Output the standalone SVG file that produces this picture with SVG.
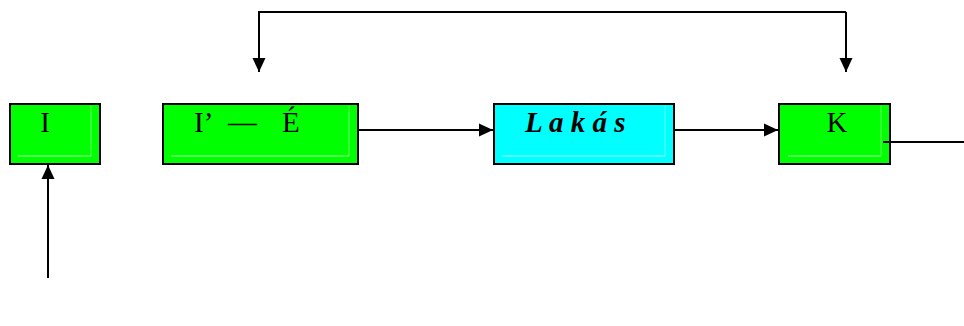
<svg xmlns="http://www.w3.org/2000/svg" width="964" height="326" viewBox="0 0 964 326">
<style>
.box{stroke:#000;stroke-width:2}
.g{fill:#00ff00}
.c{fill:#00ffff}
.hl{stroke:#a8ffa8;stroke-width:1;fill:none}
.vl{stroke:#66ff66;stroke-width:1;fill:none}
.hlc{stroke:#a8ffff;stroke-width:1;fill:none}
.vlc{stroke:#66ffff;stroke-width:1;fill:none}
.t{font-family:"Liberation Serif","Times New Roman",serif;font-size:29px;fill:#000}
.conn{stroke:#000;stroke-width:2;fill:none}
</style>
<defs>
<marker id="ah" markerWidth="14" markerHeight="14" viewBox="0 0 14 14" refX="14" refY="7" orient="auto" markerUnits="userSpaceOnUse">
<path d="M0,0.5 L14,7 L0,13.5 z" fill="#000"/>
</marker>
</defs>
<g id="node-I">
<rect class="box g" x="10" y="104" width="90" height="60"/>
<line class="hl" x1="18" y1="156" x2="91" y2="156"/>
<line class="vl" x1="91" y1="156" x2="91" y2="106"/>
<text class="t" x="45" y="132" text-anchor="middle">I</text>
</g>
<g id="node-IE">
<rect class="box g" x="163" y="104" width="195" height="60"/>
<line class="hl" x1="171" y1="156" x2="349" y2="156"/>
<line class="vl" x1="349" y1="156" x2="349" y2="106"/>
<text class="t" y="132"><tspan x="194">I’</tspan><tspan x="228">—</tspan><tspan x="282">É</tspan></text>
</g>
<g id="node-Lakas">
<rect class="box c" x="494" y="104" width="180" height="60"/>
<line class="hlc" x1="502" y1="156" x2="665" y2="156"/>
<line class="vlc" x1="665" y1="156" x2="665" y2="106"/>
<text class="t" x="525" y="132" font-weight="bold" font-style="italic" xml:space="preserve">L a k á s</text>
</g>
<g id="node-K">
<rect class="box g" x="779" y="104" width="111" height="60"/>
<line class="hl" x1="788" y1="156" x2="881" y2="156"/>
<line class="vl" x1="881" y1="156" x2="881" y2="106"/>
<text class="t" x="837" y="132" text-anchor="middle">K</text>
</g>
<g id="connectors">
<path class="conn" d="M846,12 L259,12 L259,72" marker-end="url(#ah)"/>
<line class="conn" x1="846" y1="12" x2="846" y2="72" marker-end="url(#ah)"/>
<line class="conn" x1="48" y1="278" x2="48" y2="165" marker-end="url(#ah)"/>
<line class="conn" x1="358" y1="130" x2="493" y2="130" marker-end="url(#ah)"/>
<line class="conn" x1="674" y1="130" x2="778" y2="130" marker-end="url(#ah)"/>
<line class="conn" x1="883" y1="142" x2="964" y2="142"/>
</g>
</svg>
